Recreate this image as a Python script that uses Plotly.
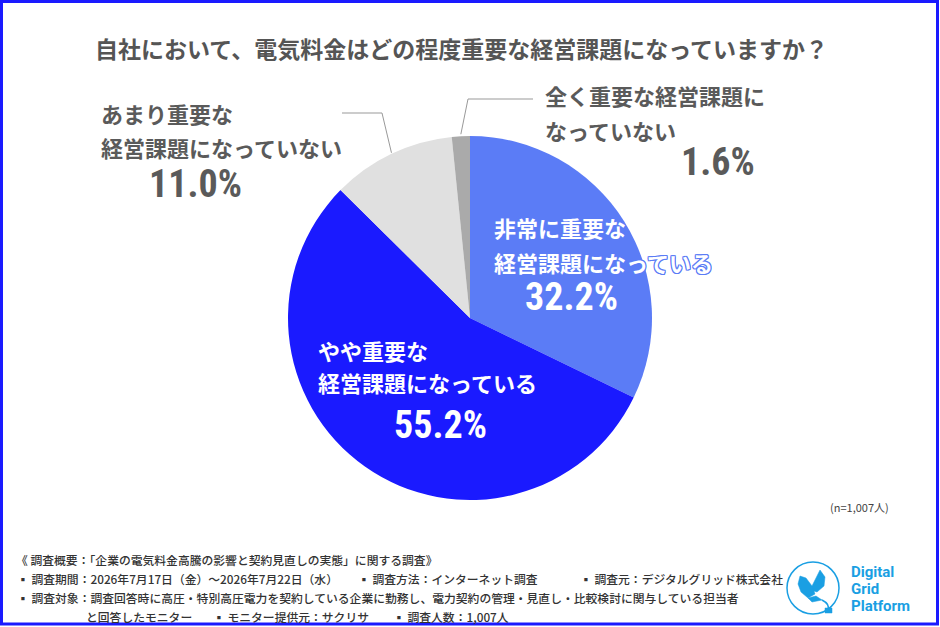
import math
import plotly.graph_objects as go

# ---- data ----
categories = ["非常に重要な経営課題になっている", "やや重要な経営課題になっている",
              "あまり重要な経営課題になっていない", "全く重要な経営課題になっていない"]
values = [32.2, 55.2, 11.0, 1.6]
colors = ["#5b7cf6", "#1a1aff", "#e0e0e0", "#aaaaaa"]

W, H = 940, 627
CX, CY, R = 470, 318, 182

def px(x):
    return x / W

def py(y):
    return 1 - y / H

fig = go.Figure()
fig.add_trace(go.Pie(
    labels=categories, values=values, sort=False, direction="clockwise", rotation=0,
    marker=dict(colors=colors, line=dict(width=0)), textinfo="none", hoverinfo="label+percent",
    showlegend=False,
    domain=dict(x=[px(CX - R), px(CX + R)], y=[py(CY + R), py(CY - R)]),
))

JP = "Noto Sans CJK JP"
NUM = "Liberation Sans Narrow, Roboto Condensed, Roboto"
GRAY = "#5a5a5a"

anns = []
def text(t, x, y, size, color, anchor="left", family=JP, weight=700, shadow=None):
    f = dict(family=family, size=size, color=color, weight=weight)
    if shadow:
        f["shadow"] = shadow
    anns.append(dict(text=t, x=px(x), y=py(y), xref="paper", yref="paper", showarrow=False,
                     xanchor=anchor, yanchor="middle", font=f))

# title
text("自社において、電気料金はどの程度重要な経営課題になっていますか？", 461, 48, 23, "#555555", anchor="center")

# labels
pct = [f"{v:.1f}%" for v in values]
outline = ", ".join(f"{a}px {b}px 0 {colors[0]}" for a in (-1, 0, 1) for b in (-1, 0, 1) if (a, b) != (0, 0))
PS = 38
text("非常に重要な", 492, 227, 22, "white")
text("経営課題になっている", 492, 262, 22, "white", shadow=outline)
text(pct[0], 571, 297, PS, "white", anchor="center", family=NUM, weight=700)

text("やや重要な", 316, 350, 22, "white")
text("経営課題になっている", 316, 382, 22, "white")
text(pct[1], 440, 425, PS, "white", anchor="center", family=NUM, weight=700)

text("あまり重要な", 99, 113, 22, GRAY)
text("経営課題になっていない", 99, 147, 22, GRAY)
text(pct[2], 195, 184, PS, GRAY, anchor="center", family=NUM, weight=700)

text("全く重要な経営課題に", 543, 95, 22, GRAY)
text("なっていない", 543, 130, 22, GRAY)
text(pct[3], 718, 162, PS, GRAY, anchor="center", family=NUM, weight=700)

text("(n=1,007人)", 859, 507, 11, "#444444", anchor="center", weight=400)

# footer
FC = "#333333"
FS = 11.8
text("《 調査概要：「企業の電気料金高騰の影響と契約見直しの実態」に関する調査》", 14, 559, FS, FC, weight=500)
text("▪ 調査期間：2026年7月17日（金）～2026年7月22日（水）", 15, 578, FS, FC, weight=500)
text("▪ 調査方法：インターネット調査", 356, 578, FS, FC, weight=500)
text("▪ 調査元：デジタルグリッド株式会社", 578, 578, FS, FC, weight=500)
text("▪ 調査対象：調査回答時に高圧・特別高圧電力を契約している企業に勤務し、電力契約の管理・見直し・比較検討に関与している担当者",
     15, 597, FS, FC, weight=500)
text("と回答したモニター", 84, 616, FS, FC, weight=500)
text("▪ モニター提供元：サクリサ", 211, 616, FS, FC, weight=500)
text("▪ 調査人数：1,007人", 391, 616, FS, FC, weight=500)

# logo text
LOGO = "#1a9fe3"
text("Digital", 849, 572, 15, LOGO, family="Roboto", weight=700)
text("Grid", 849, 589, 15, LOGO, family="Roboto", weight=700)
text("Platform", 849, 606, 15, LOGO, family="Roboto", weight=700)

shapes = []
# leader lines computed from slice mid angles
total = sum(values)
def edge_point(idx):
    cum = sum(values[:idx]) + values[idx] / 2
    ang = 2 * math.pi * cum / total
    return CX + R * math.sin(ang), CY - R * math.cos(ang)

def line_path(pts):
    d = "M " + " L ".join(f"{px(x)},{py(y)}" for x, y in pts)
    shapes.append(dict(type="path", path=d, xref="paper", yref="paper",
                       line=dict(color="#999999", width=1)))

x3, y3 = edge_point(3)
line_path([(x3, y3 - 2), (468, 99), (533, 99)])
x2, y2 = edge_point(2)
line_path([(x2, y2 - 1), (382, 113), (342, 113)])

# logo circle + bird
shapes.append(dict(type="circle", xref="paper", yref="paper",
                   x0=px(787), x1=px(839), y0=py(614), y1=py(562),
                   line=dict(color=LOGO, width=1.5)))
def fill_path(pts):
    d = "M " + " L ".join(f"{px(x)},{py(y)}" for x, y in pts) + " Z"
    shapes.append(dict(type="path", path=d, xref="paper", yref="paper",
                       fillcolor=LOGO, line=dict(color=LOGO, width=0.5)))
fill_path([(820, 570), (825, 577), (824, 586), (817, 592), (810, 590), (814, 582)])
fill_path([(800, 576), (806, 578), (812, 586), (815, 594), (808, 598), (801, 592), (798, 584)])
fill_path([(808, 598), (816, 596), (822, 600), (812, 602)])
shapes.append(dict(type="path", xref="paper", yref="paper",
                   path=f"M {px(822)},{py(600)} Q {px(830)},{py(604)} {px(828)},{py(610)}",
                   line=dict(color=LOGO, width=1.5)))
fill_path([(825, 608), (832, 608), (832, 613), (825, 613)])

# border
shapes.append(dict(type="rect", xref="paper", yref="paper",
                   x0=px(1.5), x1=px(937.5), y0=py(624), y1=py(1.5),
                   line=dict(color="#1a1aff", width=3)))

fig.update_layout(
    width=W, height=H, margin=dict(l=0, r=0, t=0, b=0),
    paper_bgcolor="white", plot_bgcolor="white",
    annotations=anns, shapes=shapes,
)
fig.write_html("out.html", config={"displayModeBar": False},
               post_script="document.body.style.margin='0';document.body.style.overflow='hidden';")
